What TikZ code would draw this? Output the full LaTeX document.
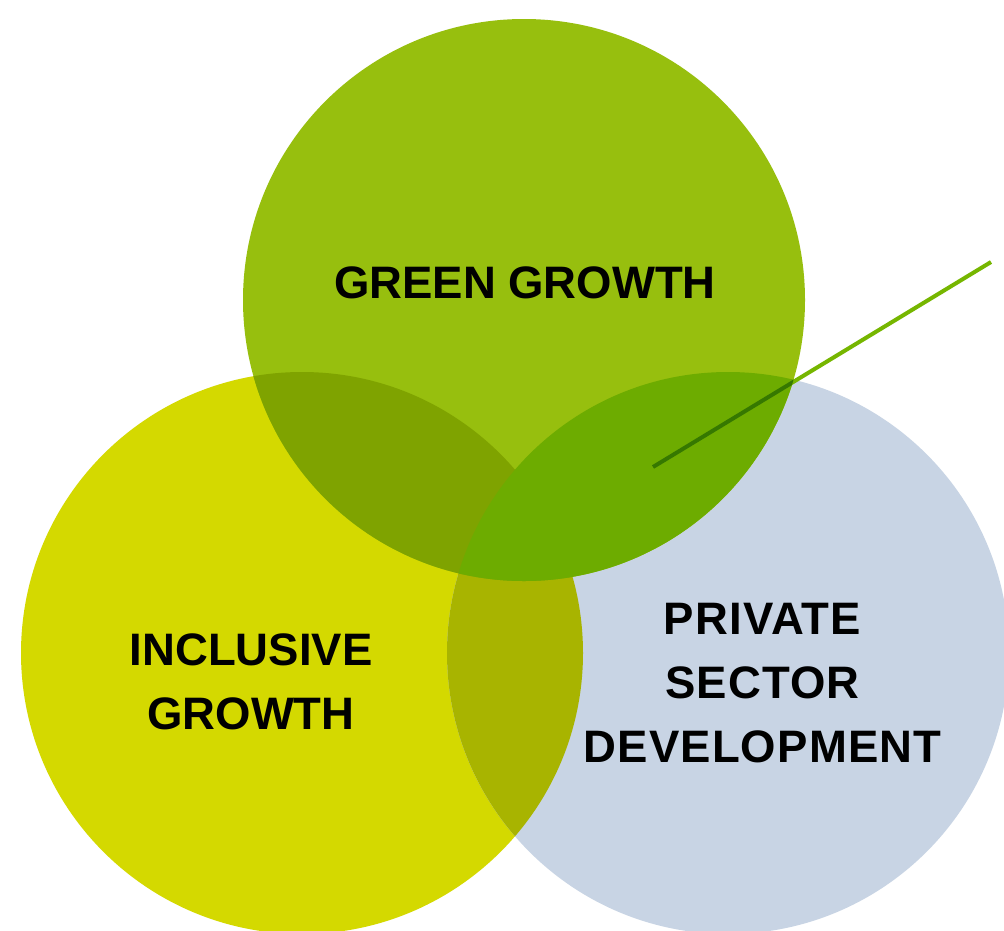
\documentclass[tikz,border=0pt]{standalone}
\usepackage{fontspec}
\setmainfont{Liberation Sans}
\newfontfamily\spacedfont[LetterSpace=2.5]{Liberation Sans}
\definecolor{ggreen}{HTML}{97BF0E}
\definecolor{gyellow}{HTML}{D4D900}
\definecolor{gblue}{HTML}{C8D4E4}
\definecolor{ggi}{HTML}{7FA300}
\definecolor{ggp}{HTML}{6DAC00}
\definecolor{gip}{HTML}{A8B400}
\definecolor{linelight}{HTML}{76B600}
\definecolor{linedark}{HTML}{367800}
\tikzset{
  lbl/.style={font=\bfseries\fontsize{45.5}{64}\selectfont, text=black, align=center, inner sep=0pt},
  pointer/.style={line width=4pt, line cap=butt}
}
\begin{document}
\begin{tikzpicture}[x=1pt,y=-1pt]
\useasboundingbox (0,0) rectangle (1004,930);
\fill[white] (0,0) rectangle (1004,930);
\coordinate (cg) at (524,300);
\coordinate (ci) at (302,653);
\coordinate (cp) at (728,653);
\coordinate (ls) at (653,467);
\coordinate (le) at (991,262);
\begin{scope}
\clip (0,0) rectangle (1004,930);
\fill[gyellow] (ci) circle[radius=281pt];
\fill[gblue] (cp) circle[radius=281pt];
\begin{scope}
\clip (ci) circle[radius=281pt];
\fill[gip] (cp) circle[radius=281pt];
\end{scope}
\fill[ggreen] (cg) circle[radius=281pt];
\begin{scope}
\clip (cg) circle[radius=281pt];
\fill[ggi] (ci) circle[radius=281pt];
\fill[ggp] (cp) circle[radius=281pt];
\end{scope}
\draw[pointer, linelight] (ls) -- (le);
\begin{scope}
\clip (cg) circle[radius=281pt];
\clip (cp) circle[radius=281pt];
\draw[pointer, linedark] (ls) -- (le);
\end{scope}
\end{scope}
\node[lbl] (green) at (525,283) {GREEN GROWTH};
\node[lbl] (incl) at (251,681.5) {INCLUSIVE\\GROWTH};
\node[lbl, font=\spacedfont\bfseries\fontsize{45.5}{64}\selectfont] (priv) at (762.5,683.5) {PRIVATE\\SECTOR\\DEVELOPMENT};
\end{tikzpicture}
\end{document}
